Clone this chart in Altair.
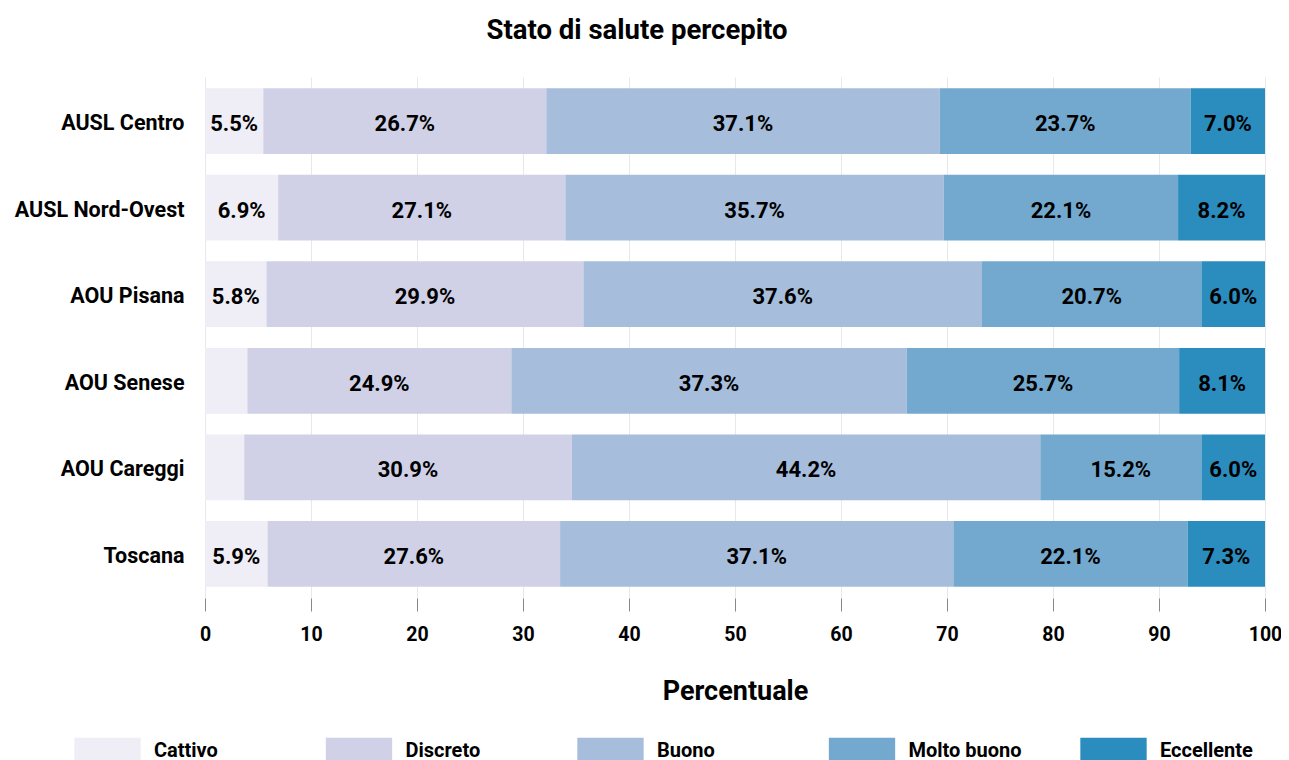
import altair as alt
import pandas as pd

categories = ["AUSL Centro", "AUSL Nord-Ovest", "AOU Pisana", "AOU Senese", "AOU Careggi", "Toscana"]
levels = ["Cattivo", "Discreto", "Buono", "Molto buono", "Eccellente"]
colors = ["#efedf5", "#d0d1e6", "#a6bddb", "#74a9cf", "#2b8cbe"]

cattivo = [5.5, 6.9, 5.8, 4.0, 3.7, 5.9]
discreto = [26.7, 27.1, 29.9, 24.9, 30.9, 27.6]
buono = [37.1, 35.7, 37.6, 37.3, 44.2, 37.1]
molto_buono = [23.7, 22.1, 20.7, 25.7, 15.2, 22.1]
eccellente = [7.0, 8.2, 6.0, 8.1, 6.0, 7.3]

series = [cattivo, discreto, buono, molto_buono, eccellente]
rows = []
for li, (lev, vals) in enumerate(zip(levels, series)):
    for cat, v in zip(categories, vals):
        rows.append({"area": cat, "livello": lev, "ordine": li, "valore": v})
df = pd.DataFrame(rows)

FONT = "Roboto"

base = alt.Chart(df).transform_stack(
    stack="valore", groupby=["area"], as_=["x0", "x1"],
    sort=[alt.SortField("ordine", order="ascending")]
)

y_enc = alt.Y("area:N", sort=categories, title=None,
              scale=alt.Scale(paddingInner=0.24, paddingOuter=0.13),
              axis=alt.Axis(ticks=False, domain=False, labelPadding=21, labelOffset=3,
                            labelFontSize=21.5, labelFont=FONT, labelFontWeight="bold",
                            labelColor="#000000"))

bars = base.mark_bar(opacity=1).encode(
    x=alt.X("x0:Q", title="Percentuale",
            scale=alt.Scale(domain=[0, 100], nice=False),
            axis=alt.Axis(values=list(range(0, 101, 10)), grid=True, gridColor="#e8e8e8",
                          domain=False, tickColor="#888888", tickSize=13, labelFlush=False,
                          labelPadding=14, labelFontSize=19.5, labelFont=FONT,
                          labelFontWeight="bold", labelColor="#000000",
                          titleFontSize=27, titleFont=FONT, titleFontWeight="bold",
                          titlePadding=35, titleColor="#000000")),
    x2="x1:Q",
    y=y_enc,
    color=alt.Color("livello:N", sort=levels,
                    scale=alt.Scale(domain=levels, range=colors),
                    legend=alt.Legend(title=None, orient="none", direction="horizontal",
                                      legendX=-131, legendY=640, columns=5,
                                      gridAlign="all", columnPadding=57.5,
                                      symbolType="M-1,-0.39L1,-0.39L1,0.39L-1,0.39Z",
                                      symbolSize=4400, symbolStrokeWidth=0,
                                      symbolOpacity=1, labelOffset=13,
                                      labelFontSize=20, labelFont=FONT,
                                      labelFontWeight="bold", labelColor="#000000")),
    order=alt.Order("ordine:Q"),
)

labels = base.transform_filter("datum.valore >= 5").transform_calculate(
    mid="(datum.x0 + datum.x1) / 2",
    testo="format(datum.valore, '.1f') + '%'"
).mark_text(font=FONT, fontWeight="bold", fontSize=22, color="#000000", dy=3).encode(
    x=alt.X("mid:Q"),
    y=alt.Y("area:N", sort=categories),
    text="testo:N",
)

chart = alt.layer(bars, labels).properties(
    width=1060, height=521,
    autosize=alt.AutoSizeParams(type="none"),
    padding={"left": 197, "top": 69, "right": 16, "bottom": 175},
    title=alt.Title("Stato di salute percepito", font=FONT, fontSize=27.5,
                    fontWeight="bold", color="#000000", anchor="middle",
                    dx=-98, offset=33),
).configure_view(stroke=None)

chart.save("out.html", embed_options={"renderer": "svg", "actions": False})
